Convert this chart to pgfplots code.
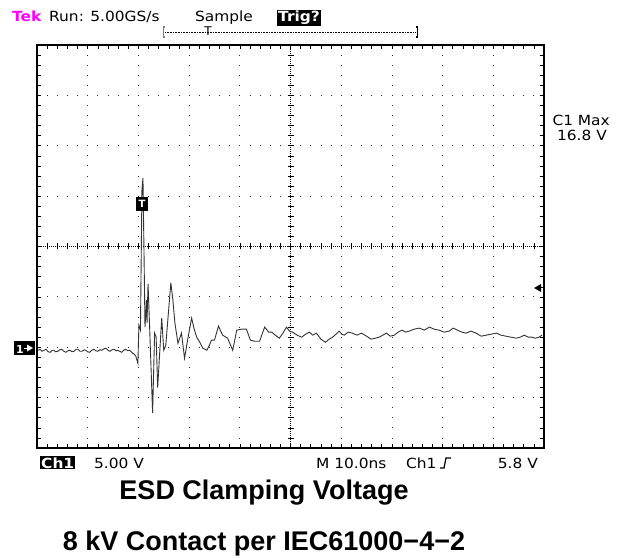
\documentclass[border=0pt]{standalone}
\usepackage{pgfplots}
\pgfplotsset{compat=1.18}
\usepackage{fontspec}
\setmainfont{DejaVu Sans}
\newfontfamily\titlefont{Liberation Sans}
\newfontfamily\tekfamily[FakeStretch=1.1]{DejaVu Sans}
\newcommand\tekfont{\tekfamily\fontsize{14}{16}\selectfont}
\definecolor{tekpink}{RGB}{255,0,255}

\pgfplotstableread{
t V
0.2 -0.30
0.6 -0.20
1.0 -0.40
1.4 -0.30
1.8 -0.20
2.2 -0.45
2.6 -0.50
3.0 -0.30
3.3 -0.30
3.7 -0.45
4.1 -0.40
4.5 -0.25
4.9 -0.20
5.3 -0.40
5.7 -0.50
6.1 -0.35
6.5 -0.30
6.9 -0.45
7.3 -0.40
7.7 -0.20
8.1 -0.20
8.5 -0.40
8.9 -0.40
9.3 -0.25
9.6 -0.30
10.0 -0.45
10.4 -0.50
10.8 -0.30
11.2 -0.20
11.6 -0.35
12.0 -0.40
12.4 -0.25
12.8 -0.30
13.2 -0.15
13.6 -0.10
14.0 -0.30
14.4 -0.40
14.8 -0.25
15.2 -0.20
15.6 -0.35
15.9 -0.30
16.3 -0.40
16.7 -0.50
17.1 -0.30
17.5 -0.20
17.9 -0.35
18.3 -0.30
18.6 -0.45
18.9 -0.60
19.2 -0.70
19.5 -0.90
19.9 -1.60
20.1 2.2
20.4 1.7
20.7 15.6
20.9 16.8
21.1 9.6
21.3 2.0
21.6 4.7
21.7 2.4
21.9 6.3
22.2 2.2
22.8 -6.5
23.2 1.4
23.5 1.0
23.8 -4.0
24.6 2.9
25.0 -0.3
25.4 0.2
26.4 6.4
26.8 4.7
27.2 2.4
27.8 0.4
28.5 1.4
29.1 -1.1
29.8 1.0
30.5 2.9
31.0 1.8
31.5 1.0
32.1 0.5
32.7 -0.1
33.5 -0.3
34.0 0.2
34.4 0.7
35.0 0.7
35.8 2.1
36.6 1.2
37.6 0.9
38.6 -0.3
39.4 1.7
40.4 1.8
41.3 1.8
42.1 0.7
42.9 0.6
43.9 0.6
44.9 2.0
45.7 1.5
46.3 1.5
47.0 1.2
47.8 0.9
48.5 1.4
49.2 2.0
49.8 1.6
50.4 1.5
51.3 1.2
52.2 1.0
53.0 1.3
53.7 1.5
54.4 1.2
55.1 1.4
56.0 0.8
56.9 0.5
57.6 0.8
58.3 1.0
59.0 1.3
59.6 1.6
60.1 1.3
60.6 1.2
61.4 1.5
62.2 1.4
63.1 1.2
64.0 1.4
65.0 1.1
65.9 0.8
66.7 0.9
67.5 1.0
68.2 1.2
68.9 1.4
69.7 1.1
70.5 1.2
71.2 1.5
72.0 1.7
72.7 1.5
73.4 1.6
74.4 1.8
75.4 1.9
76.4 1.7
77.4 2.0
78.3 1.8
79.3 1.7
80.3 1.5
81.3 1.6
82.1 1.9
82.9 1.7
83.8 1.5
84.6 1.4
85.6 1.6
86.6 1.4
87.6 1.1
88.6 1.2
89.6 1.3
90.6 1.4
91.5 1.2
92.5 1.1
93.5 1.0
94.5 0.9
95.3 1.0
96.1 1.2
96.9 1.0
97.6 1.0
98.3 0.9
99.0 1.0
99.6 1.2
}\trace

\begin{document}
\begin{tikzpicture}[x=1pt,y=1pt]
\path[use as bounding box] (0,0) rectangle (628,557);

% graticule (box 37..544 x 109..512)
\foreach \k in {1,2,3,4,6,7,8,9}
  \draw[black!85, line width=0.8pt, dash pattern=on 0.8pt off 9.275pt, dash phase=0.4pt]
    ({37+50.7*\k},109) -- ({37+50.7*\k},512);
\foreach \k in {1,2,3,5,6,7}
  \draw[black!85, line width=0.8pt, dash pattern=on 0.8pt off 9.34pt, dash phase=0.4pt]
    (37,{109+50.375*\k}) -- (544,{109+50.375*\k});
% centre cross
\draw[black, line width=0.7pt, dash pattern=on 0.8pt off 1.2pt] (37,310.5) -- (544,310.5);
\draw[black, line width=0.7pt, dash pattern=on 0.8pt off 1.2pt] (290.5,109) -- (290.5,512);
\foreach \i in {1,...,49}
  \draw[black, line width=0.6pt] ({37+10.14*\i},307.5) -- ({37+10.14*\i},313.5);
\foreach \i in {1,...,39}
  \draw[black, line width=0.6pt] (287.5,{109+10.075*\i}) -- (293.5,{109+10.075*\i});

\begin{axis}[
  at={(37pt,109pt)}, anchor=south west,
  scale only axis, width=507pt, height=403pt,
  xmin=0, xmax=100, ymin=-10, ymax=30,
  xtick={0,10,...,100}, ytick={-10,-5,...,30},
  minor x tick num=4, minor y tick num=4,
  xticklabels={}, yticklabels={},
  tick align=inside, major tick length=4pt, minor tick length=4pt,
  tick style={black, line width=0.6pt},
  axis line style={black, line width=1.2pt},
]
\addplot[black!80, line width=0.9pt, mark=none] table[x=t, y=V] {\trace};
\end{axis}

% top status line
\node[anchor=base west, inner sep=0, text=tekpink, font=\tekfont\bfseries] at (12,535) {Tek};
\node[anchor=base west, inner sep=0, font=\tekfont] at (49,535) {Run: 5.00GS/s};
\node[anchor=base west, inner sep=0, font=\tekfont] at (195,535) {Sample};
\node[anchor=base west, fill=black, text=white, inner sep=1pt, font=\tekfont\bfseries] at (277,535) {Trig?};
% record bar
\draw[line width=1.4pt, gray] (165,520) -- (163.5,520) -- (163.5,530) -- (165,530);
\draw[line width=1.4pt, black] (416,520) -- (417.5,520) -- (417.5,530) -- (416,530);
\draw[line width=0.7pt, dash pattern=on 0.8pt off 0.8pt] (165,525) -- (416,525);
\node[anchor=north, inner sep=0, font=\fontsize{12}{12}\selectfont] at (208,530) {T};

% right readout
\node[anchor=base east, inner sep=0, font=\tekfont] at (610,431) {C1 Max};
\node[anchor=base east, inner sep=0, font=\tekfont] at (607,416) {16.8 V};
% trigger level arrow
\fill[black] (534,269) -- (541,273) -- (541,265) -- cycle;
% ground marker
\fill[black] (14,202) rectangle (35,216);
\node[anchor=base west, inner sep=0, text=white, font=\fontsize{11}{11}\selectfont\bfseries] at (16,204) {1};
\draw[white, line width=1pt] (24,209) -- (29,209);
\fill[white] (27,205.5) -- (33,209) -- (27,212.5) -- cycle;
% trigger position marker on trace
\fill[black] (136,346) rectangle (148,360);
\node[inner sep=0, text=white, font=\fontsize{10}{10}\selectfont\bfseries] at (142,353) {T};

% bottom status line
\node[anchor=base west, fill=black, text=white, inner sep=1pt, font=\tekfont\bfseries] at (40,89) {Ch1};
\node[anchor=base west, inner sep=0, font=\tekfont] at (94,89) {5.00 V};
\node[anchor=base west, inner sep=0, font=\tekfont] at (316,89) {M 10.0ns};
\node[anchor=base west, inner sep=0, font=\tekfont] at (406,89) {Ch1};
\draw[line width=1.2pt] (440,89) -- (444,89) -- (446,99) -- (451,99);
\node[anchor=base east, inner sep=0, font=\tekfont] at (538,89) {5.8 V};

% titles
\node[anchor=base, inner sep=0, font=\titlefont\bfseries\fontsize{27}{30}\selectfont] at (264,58) {ESD Clamping Voltage};
\node[anchor=base, inner sep=0, font=\titlefont\bfseries\fontsize{27}{30}\selectfont] at (264,7) {8 kV Contact per IEC61000−4−2};
\end{tikzpicture}
\end{document}
